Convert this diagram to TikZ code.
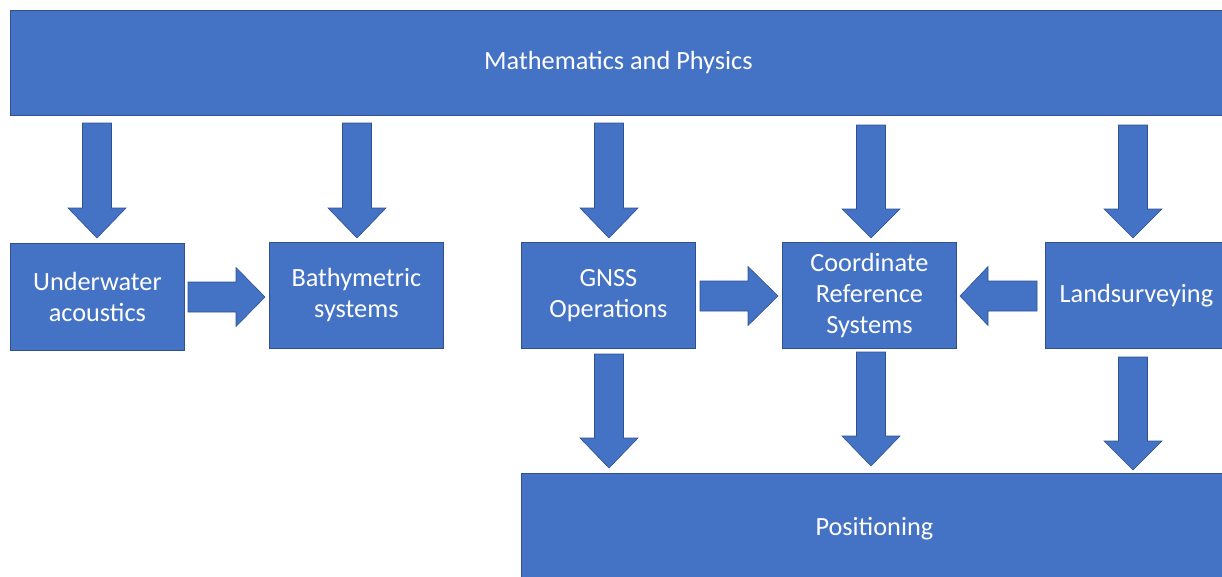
\documentclass[tikz,border=0pt]{standalone}
\usepackage{fontspec}
\setmainfont{Carlito}
\definecolor{bfill}{HTML}{4472C4}
\definecolor{bline}{HTML}{2F528F}
\begin{document}
\begin{tikzpicture}[x=1pt,y=-1pt,
  box/.style={draw=bline,fill=bfill,line width=0.8pt,text=white,font=\fontsize{26.3}{31}\selectfont,align=center,inner sep=0pt},
  blockarrow/.style={draw=bline,fill=bfill,line width=0.6pt,line join=miter}]
\useasboundingbox (0,0) rectangle (1222,576);
% boxes
\node[box,minimum width=1216pt,minimum height=105pt,anchor=north west] (math) at (10,10) {Mathematics and Physics};
\node[box,minimum width=174pt,minimum height=107pt,anchor=north west] (uw) at (10,243) {Underwater\\acoustics};
\node[box,minimum width=174pt,minimum height=106pt,anchor=north west] (bath) at (269,242) {Bathymetric\\systems};
\node[box,minimum width=174pt,minimum height=106pt,anchor=north west] (gnss) at (521,242) {GNSS\\Operations};
\node[box,minimum width=174pt,minimum height=106pt,anchor=north west] (crs) at (782,242) {Coordinate\\Reference\\Systems};
\node[box,minimum width=182pt,minimum height=106pt,anchor=north west] (land) at (1045,242) {Landsurveying};
\node[box,minimum width=706pt,minimum height=110pt,anchor=north west] (pos) at (521,473) {Positioning};
% down arrows: #1 center x, #2 top, #3 head start, #4 tip
\newcommand{\dnarrow}[4]{\draw[blockarrow] (#1-14.5,#2) -- (#1+14.5,#2) -- (#1+14.5,#3) -- (#1+29,#3) -- (#1,#4) -- (#1-29,#3) -- (#1-14.5,#3) -- cycle;}
% horizontal arrows: #1 center y, #2 tail x, #3 head start x, #4 tip x
\newcommand{\hzarrow}[4]{\draw[blockarrow] (#2,#1-15) -- (#3,#1-15) -- (#3,#1-29.5) -- (#4,#1) -- (#3,#1+29.5) -- (#3,#1+15) -- (#2,#1+15) -- cycle;}
\dnarrow{97}{123}{208}{238}
\dnarrow{357}{123}{208}{238}
\dnarrow{609}{123}{208}{238}
\dnarrow{871}{125}{209}{238}
\dnarrow{1133}{125}{209}{238}
\dnarrow{609}{354}{438}{468}
\dnarrow{871}{352}{436}{466}
\dnarrow{1133}{357}{441}{470}
\hzarrow{297}{188}{236}{265}
\hzarrow{296}{700}{748}{778}
\hzarrow{296}{1037}{988}{960}
\end{tikzpicture}
\end{document}
